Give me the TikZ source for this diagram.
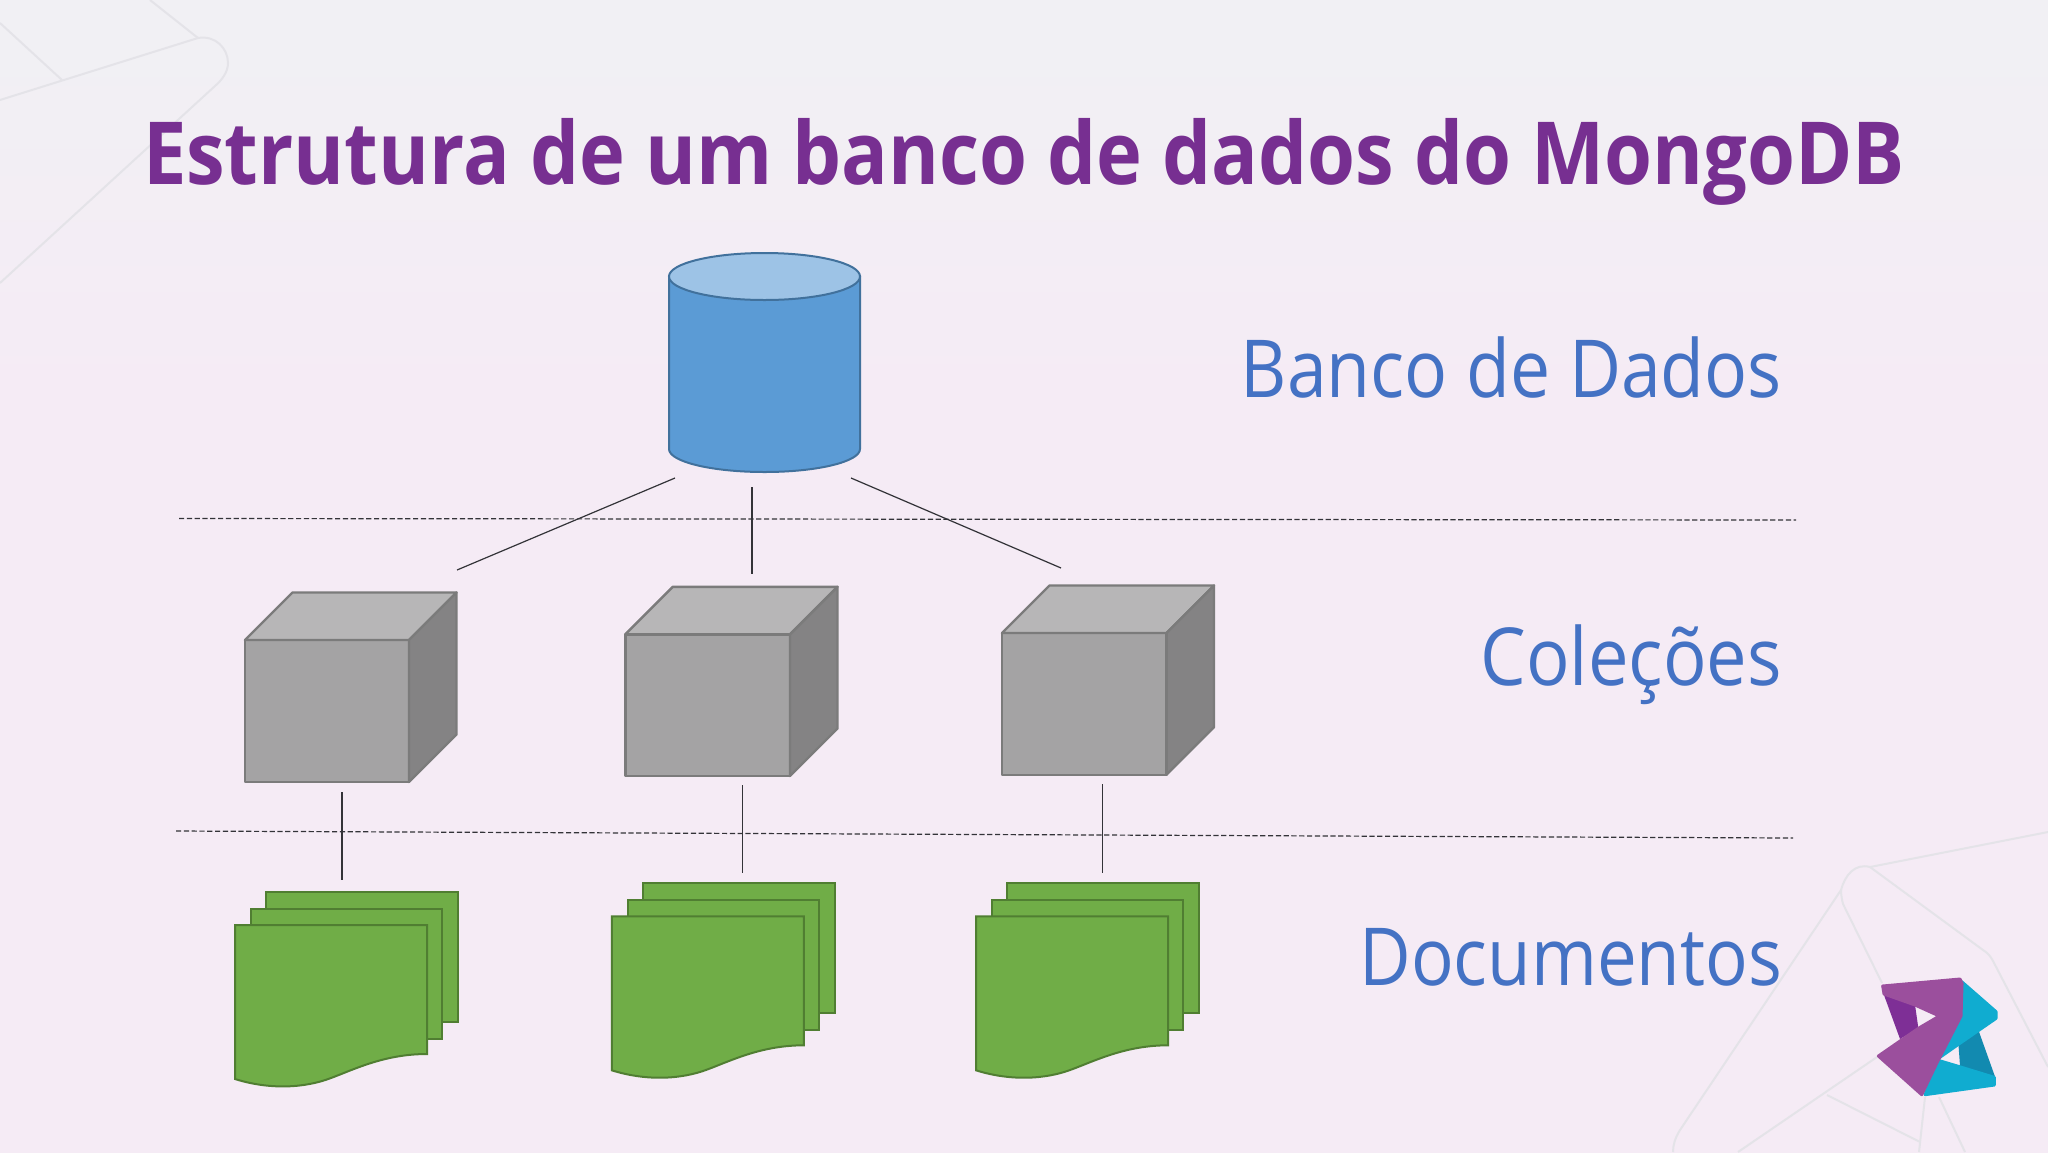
\documentclass[tikz,border=0pt]{standalone}
\usepackage{fontspec}
\setmainfont{Open Sans}
\definecolor{bgA}{HTML}{F1F0F4}
\definecolor{bgB}{HTML}{F5EBF5}
\definecolor{deco}{HTML}{E4E3E8}
\definecolor{titlec}{HTML}{772F91}
\definecolor{labelc}{HTML}{4472C4}
\definecolor{cylbody}{HTML}{5B9BD5}
\definecolor{cyltop}{HTML}{9DC3E6}
\definecolor{cylline}{HTML}{41719C}
\definecolor{cubefront}{HTML}{A4A3A4}
\definecolor{cubetop}{HTML}{B7B6B7}
\definecolor{cubeside}{HTML}{848384}
\definecolor{cubeline}{HTML}{7B7B7B}
\definecolor{docfill}{HTML}{70AD47}
\definecolor{docline}{HTML}{507E32}
\definecolor{linkc}{HTML}{333338}
\definecolor{logoP}{HTML}{9B4F9D}
\definecolor{logoPd}{HTML}{7E2F96}
\definecolor{logoT}{HTML}{10ACD0}
\definecolor{logoTd}{HTML}{128AB0}
\tikzset{
  decoline/.style={draw=deco,line width=1pt},
  link/.style={draw=linkc,line width=0.6pt},
  sep/.style={draw=linkc,line width=0.6pt,dash pattern=on 2.6pt off 1.3pt},
  cube/.style={draw=cubeline,line width=1.2pt,line join=round},
  sheet/.style={fill=docfill,draw=docline,line width=1pt,line join=miter},
  cyl/.style={draw=cylline,line width=1pt},
  label/.style={anchor=base east,inner sep=0pt,outer sep=0pt,text=labelc,font=\fontsize{40}{48}\selectfont},
}
% name, L, T, R, B
\newcommand{\mycube}[5]{%
  \fill[cubefront,name=#1] (#2,#3) rectangle (#4,#5);
  \draw[cube,fill=cubetop] (#2,#3) -- ({#2+47.5},{#3-47.5}) -- ({#4+47.5},{#3-47.5}) -- (#4,#3) -- cycle;
  \draw[cube,fill=cubeside] (#4,#3) -- ({#4+47.5},{#3-47.5}) -- ({#4+47.5},{#5-47.5}) -- (#4,#5) -- cycle;
  \draw[cube] (#2,#3) rectangle (#4,#5);
}
% stack: x offset, y offset from first document
\newcommand{\mydocs}[2]{%
  \begin{scope}[shift={(#1,#2)}]
    \draw[sheet] (266,892) rectangle (458,1022);
    \draw[sheet] (251,909) rectangle (442,1038.5);
    \draw[sheet] (235,925) -- (427,925) -- (427,1054)
       .. controls (385,1054) and (355,1069) .. (331,1078)
       .. controls (305,1088) and (270,1090) .. (235,1079) -- cycle;
  \end{scope}
}
\begin{document}
\begin{tikzpicture}[x=0.5pt,y=-0.5pt]
\useasboundingbox (0,0) rectangle (2048,1152);
\fill[bgB] (-10,-10) rectangle (2058,1162);
\shade[top color=bgA,bottom color=bgB] (-10,40) rectangle (2058,400);
\fill[bgA] (-10,-10) rectangle (2058,41);
\clip (0,0) rectangle (2048,1152);
% decorative lines, top left
\draw[decoline] (0,23) -- (62,80);
\draw[decoline] (150,0) -- (198,38);
\draw[decoline] (0,100) -- (198,38) .. controls (215,35) and (228,48) .. (228,63)
   .. controls (228,72) and (222,80) .. (215,86) -- (0,283);
% decorative lines, bottom right
\draw[decoline] (2048,832) -- (1870,867) .. controls (1855,863) and (1845,875) .. (1841,890)
   -- (1680,1130) .. controls (1675,1138) and (1673,1145) .. (1673,1152);
\draw[decoline] (1841,890) .. controls (1841,895) and (1842,900) .. (1843,904) -- (1882,983);
\draw[decoline] (1870,867) -- (1983,950) .. controls (1988,953) and (1991,957) .. (1993,961) -- (2048,1067);
\draw[decoline] (1877,1057) -- (1738,1152);
\draw[decoline] (1827,1095) -- (1920,1142);
\draw[decoline] (1925,1097) -- (1919,1152);
\draw[decoline] (1939,1097) -- (1965,1152);
% title
\node[anchor=base west,inner sep=0pt,outer sep=0pt,text=titlec] (title) at (143,184)
  {\resizebox{881pt}{\height}{\bfseries\fontsize{43.5}{50}\selectfont Estrutura de um banco de dados do MongoDB}};
% separators
\coordinate (sepAl) at (179,518.5); \coordinate (sepAr) at (1796,520);
\coordinate (sepBl) at (176,831);   \coordinate (sepBr) at (1793,838);
\draw[sep] (sepAl) -- (sepAr);
\draw[sep] (sepBl) -- (sepBr);
% cylinder
\draw[cyl,fill=cylbody] (669,276.5) -- (669,449) .. controls (669,461.7) and (711.8,472) .. (764.5,472)
   .. controls (817.2,472) and (860,461.7) .. (860,449) -- (860,276.5) -- cycle;
\draw[cyl,fill=cyltop] (764.5,276.5) ellipse [x radius=95.5,y radius=23.5];
% cubes
\mycube{cubeA}{245}{640}{409}{782}
\mycube{cubeB}{625.3}{634.3}{790}{776}
\mycube{cubeC}{1002}{633}{1166.5}{774.7}
% documents
\mydocs{0}{0}
\mydocs{376.8}{-8.7}
\mydocs{741}{-8.7}
% connectors
\coordinate (dbL) at (675,478);  \coordinate (colL) at (457,570);
\coordinate (dbM) at (752,487);  \coordinate (colM) at (752,574);
\coordinate (dbR) at (851,478);  \coordinate (colR) at (1061,568);
\draw[link] (dbL) -- (colL);
\draw[link] (dbM) -- (colM);
\draw[link] (dbR) -- (colR);
\coordinate (cA) at (342,792);   \coordinate (dA) at (342,880);
\coordinate (cB) at (742.4,785); \coordinate (dB) at (742.4,873);
\coordinate (cC) at (1102.4,784);\coordinate (dC) at (1102.4,872.7);
\draw[link] (cA) -- (dA);
\draw[link] (cB) -- (dB);
\draw[link] (cC) -- (dC);
% labels
\node[label] (lblDB) at (1782,397) {\resizebox{270.6pt}{\height}{Banco de Dados}};
\node[label] (lblCol) at (1782,685) {\resizebox{150.7pt}{\height}{Coleções}};
\node[label] (lblDoc) at (1782,985) {\resizebox{211.3pt}{\height}{Documentos}};
% logo
\begin{scope}[shift={(1650,800)},x=0.16667pt,y=-0.16667pt,line join=round]
  \fill[logoTd] (985,690) -- (1035,830) -- (930,798) -- (925,730) -- cycle;
  \fill[logoPd] (700,580) -- (795,615) -- (805,685) -- (750,717) -- cycle;
  \filldraw[logoT,line width=1.5pt] (935,545) -- (1038,635) -- (1038,655) -- (925,733) -- (865,775) -- (850,760) -- (935,645) -- cycle;
  \filldraw[logoT,line width=1.5pt] (868,782) -- (935,802) -- (1033,832) -- (1033,855) -- (825,884) -- (860,790) -- cycle;
  \filldraw[logoP,line width=1.5pt] (698,558) -- (930,537) -- (936,550) -- (933,648) -- (860,790) -- (815,884)
     -- (685,768) -- (805,685) -- (868,648) -- (795,615) -- (702,582) -- cycle;
\end{scope}
\end{tikzpicture}
\end{document}
